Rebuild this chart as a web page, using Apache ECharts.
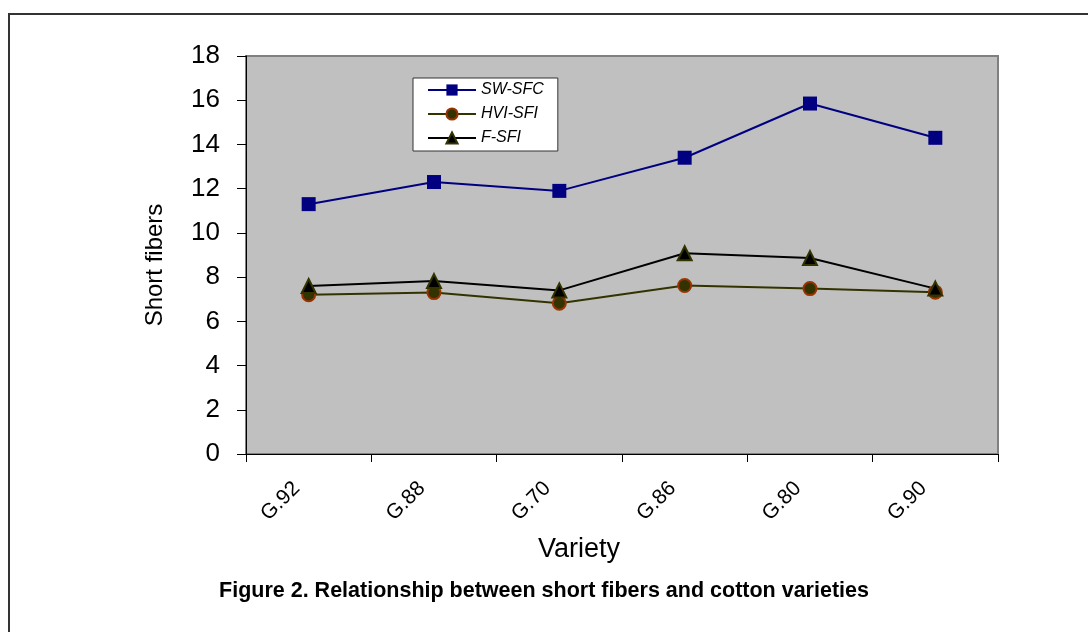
<!DOCTYPE html>
<html>
<head>
<meta charset="utf-8">
<script src="https://cdn.jsdelivr.net/npm/echarts@6/dist/echarts.min.js"></script>
<style>html,body{margin:0;padding:0;background:#fff;}#c{width:1088px;height:632px;}</style>
</head>
<body>
<div id="c"></div>
<script>
const categories = ['G.92', 'G.88', 'G.70', 'G.86', 'G.80', 'G.90'];
const swSfc = [11.3, 12.3, 11.9, 13.4, 15.85, 14.3];
const hviSfi = [7.2, 7.3, 6.82, 7.62, 7.48, 7.32];
const fSfi = [7.6, 7.82, 7.4, 9.08, 8.86, 7.48];
const yTicks = [0, 2, 4, 6, 8, 10, 12, 14, 16, 18];

const FONT = 'Arial, "Liberation Sans", sans-serif';
const chart = echarts.init(document.getElementById('c'), null, {renderer: 'canvas'});
chart.setOption({
  animation: false,
  backgroundColor: '#fff',
  grid: {
    left: 246, top: 56, right: 90, bottom: 178,
    show: true, backgroundColor: '#c0c0c0', borderColor: '#808080', borderWidth: 2,
    containLabel: false
  },
  legend: {
    orient: 'vertical', left: 413, top: 78,
    padding: [4, 14, 5, 14],
    itemWidth: 48, itemHeight: 14, itemGap: 8,
    backgroundColor: '#fff', borderColor: '#333', borderWidth: 1,
    textStyle: {fontFamily: FONT, fontSize: 16, lineHeight: 14, fontStyle: 'italic', color: '#000'},
    data: ['SW-SFC', 'HVI-SFI', 'F-SFI']
  },
  xAxis: {
    type: 'category', data: categories, boundaryGap: true,
    axisLine: {show: true, lineStyle: {color: '#000', width: 1}},
    axisTick: {show: true, length: 8, lineStyle: {color: '#000'}},
    axisLabel: {interval: 0, rotate: 45, margin: 19, padding: [0, 17, 0, 0],
      fontFamily: FONT, fontSize: 21, color: '#000'}
  },
  yAxis: {
    type: 'value', min: yTicks[0], max: yTicks[yTicks.length - 1], interval: 2,
    axisLine: {show: true, lineStyle: {color: '#000', width: 1}},
    axisTick: {show: true, length: 9, lineStyle: {color: '#000'}},
    axisLabel: {margin: 26, fontFamily: FONT, fontSize: 26, color: '#000'},
    splitLine: {show: false}
  },
  series: [
    {
      name: 'SW-SFC', type: 'line', data: swSfc,
      symbol: 'rect', symbolSize: 14,
      lineStyle: {color: '#000080', width: 2},
      itemStyle: {color: '#000080', borderColor: '#000080', borderWidth: 0}
    },
    {
      name: 'HVI-SFI', type: 'line', data: hviSfi,
      symbol: 'circle', symbolSize: 13,
      lineStyle: {color: '#333300', width: 2},
      itemStyle: {color: '#333300', borderColor: '#993300', borderWidth: 2}
    },
    {
      name: 'F-SFI', type: 'line', data: fSfi,
      symbol: 'triangle', symbolSize: 14,
      lineStyle: {color: '#000', width: 2},
      itemStyle: {color: '#000', borderColor: '#333300', borderWidth: 2}
    }
  ],
  graphic: [
    {type: 'rect', z: 100, silent: true, shape: {x: 9, y: 14, width: 1200, height: 800},
     style: {fill: 'none', stroke: '#333', lineWidth: 2}},
    {type: 'text', z: 100, x: 155, y: 265, rotation: Math.PI / 2,
     style: {text: 'Short fibers', font: '24px Arial, "Liberation Sans", sans-serif',
       fill: '#000', align: 'center', verticalAlign: 'middle'}},
    {type: 'text', z: 100, x: 579, y: 550,
     style: {text: 'Variety', font: '27px Arial, "Liberation Sans", sans-serif',
       fill: '#000', align: 'center', verticalAlign: 'middle'}},
    {type: 'text', z: 100, x: 544, y: 591,
     style: {text: 'Figure 2. Relationship between short fibers and cotton varieties',
       font: 'bold 21.5px Arial, "Liberation Sans", sans-serif', fill: '#000',
       align: 'center', verticalAlign: 'middle'}}
  ]
});
</script>
</body>
</html>
